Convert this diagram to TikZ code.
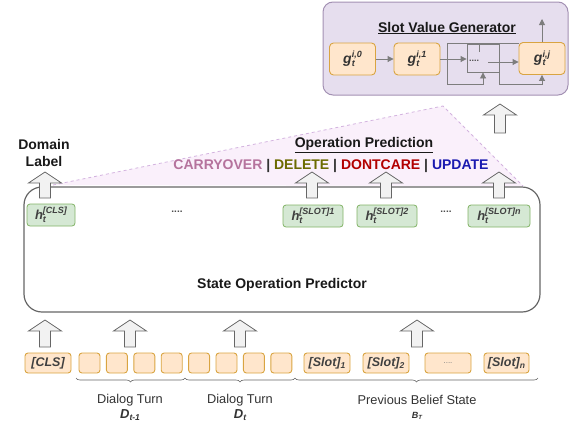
\documentclass[tikz,border=0pt]{standalone}
\usepackage{fontspec}
\setmainfont{Liberation Sans}
\usetikzlibrary{decorations.pathreplacing,arrows.meta}
\definecolor{greenfill}{HTML}{D5E8D4}
\definecolor{greenline}{HTML}{82B366}
\definecolor{orfill}{HTML}{FFE6CC}
\definecolor{orline}{HTML}{D9A441}
\definecolor{purfill}{HTML}{E6DEEE}
\definecolor{purline}{HTML}{A391B3}
\definecolor{pinkfill}{HTML}{FAF0FB}
\definecolor{pinkline}{HTML}{D3B3DF}
\definecolor{arrfill}{HTML}{F2F2F2}
\definecolor{gline}{HTML}{666666}
\definecolor{carry}{HTML}{B5739D}
\definecolor{del}{HTML}{6B6B00}
\definecolor{dont}{HTML}{B20000}
\definecolor{upd}{HTML}{1A1AB0}
\definecolor{barc}{HTML}{333333}
\newcommand\mySS[3]{#1\rlap{\raisebox{-3pt}{\fontsize{9}{9}\selectfont #2}}\raisebox{5.5pt}{\fontsize{9}{9}\selectfont #3}}
\newcommand\mySub[2]{#1\raisebox{-2.5pt}{\fontsize{8.5}{9}\selectfont #2}}
\newcommand\blockup[3]{\draw[blockarr] (#1-5.5,#3) -- (#1-5.5,#2+11) -- (#1-16.5,#2+11) -- (#1,#2) -- (#1+16.5,#2+11) -- (#1+5.5,#2+11) -- (#1+5.5,#3) -- cycle;}
\begin{document}
\begin{tikzpicture}[x=1pt,y=-1pt,
  lbl/.style={font=\bfseries\fontsize{14}{16}\selectfont, text=black!90, inner sep=0pt},
  hbox/.style={draw=greenline, fill=greenfill, rounded corners=3pt, line width=0.8pt, minimum height=22pt, inner sep=0pt, font=\bfseries\itshape\fontsize{13}{13}\selectfont, text=black!75},
  tok/.style={draw=orline, fill=orfill, rounded corners=3pt, line width=0.9pt, minimum height=20pt, inner sep=0pt, font=\bfseries\itshape\fontsize{12.5}{13}\selectfont, text=black!75},
  gbox/.style={draw=orline, fill=orfill, rounded corners=4pt, line width=0.9pt, minimum width=46pt, minimum height=32pt, inner sep=0pt, font=\bfseries\itshape\fontsize{14}{14}\selectfont, text=black!80},
  blockarr/.style={draw=gline, fill=arrfill, line width=0.8pt, line join=miter},
  gconn/.style={draw=gline!85, line width=0.9pt},
  gtip/.style={-{Triangle[length=6pt,width=6pt]}},
  brc/.style={decorate, decoration={brace, mirror, amplitude=4pt}, draw=black!60, line width=0.6pt},
  plaintext/.style={font=\fontsize{12.8}{14}\selectfont, text=black!80, inner sep=0pt},
  dotsty/.style={font=\bfseries\fontsize{10}{10}\selectfont, text=black!70, inner sep=0pt}
]
\useasboundingbox (0,0) rectangle (569,423);

% pink operation area
\coordinate (pa) at (53,185);
\coordinate (pb) at (443,106);
\coordinate (pc) at (523,186);
\fill[pinkfill] (pa) -- (pb) -- (pc) -- cycle;
\draw[pinkline, dashed, line width=0.8pt] (pa) -- (pb) -- (pc);

% slot value generator
\node[draw=purline, fill=purfill, rounded corners=10pt, line width=1pt, minimum width=245pt, minimum height=93pt, inner sep=0pt] (gen) at (445.5,48.5) {};
\node[lbl] (svg) at (447,28) {\underline{Slot Value Generator}};
\node[gbox] (g0) at (352.5,59) {\mySS{g}{t}{i,0}};
\node[gbox] (g1) at (417,59) {\mySS{g}{t}{i,1}};
\node[gbox] (gj) at (542,58.5) {\mySS{g}{t}{i,j}};
\node[draw=gline!85, line width=0.9pt, minimum width=32pt, minimum height=28pt, inner sep=0pt] (gd) at (483,58) {};
\node[dotsty, font=\bfseries\fontsize{9}{9}\selectfont] (gdt) at (474,61) {....};
\draw[gconn,gtip] (g0.east) -- (g1.west);
\draw[gconn,gtip] (g1.east) -- (g1.east -| gd.west);
\coordinate (lp1) at (447,84);
\draw[gconn] (lp1) -- (lp1 |- gd.north) -- (gj.west |- gd.north);
\draw[gconn,gtip] (lp1) -| (gd.south);
\draw[gconn,gtip] (gd.south east) -- ++(0,12) -| (gj.south);
\draw[gconn] ([xshift=-4pt]gd.north) -- ++(0,8);
\coordinate (gdo) at (488,62);
\draw[gconn,gtip] (gdo) -- (gdo -| gj.west);
\coordinate (gout) at (542,19);
\draw[gconn,gtip] (gj.north) -- (gout);

% state operation predictor
\node[draw=gline, line width=1.2pt, rounded corners=18pt, minimum width=516pt, minimum height=125pt, inner sep=0pt] (sop) at (282,249.5) {};
\node[lbl] (sopl) at (282,285) {State Operation Predictor};

\node[hbox, minimum width=48pt] (hcls) at (51,215) {\mySS{h}{t}{[CLS]}};
\node[dotsty] (hd1) at (177,212) {....};
\node[hbox, minimum width=60pt] (hs1) at (313,216) {\mySS{h}{t}{[SLOT]1}};
\node[hbox, minimum width=60pt] (hs2) at (387,216) {\mySS{h}{t}{[SLOT]2}};
\node[dotsty] (hd2) at (446,212) {....};
\node[hbox, minimum width=62pt] (hsn) at (499,216) {\mySS{h}{t}{[SLOT]n}};

% labels
\node[lbl] (dom1) at (44,144) {Domain};
\node[lbl] (dom2) at (44,161) {Label};
\node[lbl] (opp) at (364,145) {\underline{Operation Prediction}};
\node[lbl] (ops) at (331,166) {\textcolor{carry}{CARRYOVER} \textcolor{barc}{|} \textcolor{del}{DELETE} \textcolor{barc}{|} \textcolor{dont}{DONTCARE} \textcolor{barc}{|} \textcolor{upd}{UPDATE}};

% block arrows
\blockup{45}{172}{198}
\blockup{312}{172}{198}
\blockup{386}{172}{198}
\blockup{499}{172}{198}
\blockup{500}{104}{133}
\blockup{45}{320}{347}
\blockup{130}{320}{347}
\blockup{240}{320}{347}
\blockup{417}{320}{347}

% tokens
\node[tok, minimum width=46pt] (tcls) at (48,363) {[CLS]};
\foreach \i/\x in {1/89.5,2/116.9,3/144.3,4/171.7,5/199.1,6/226.5,7/253.9,8/281.3}
  \node[tok, minimum width=21pt] (tk\i) at (\x,363) {};
\node[tok, minimum width=46pt] (ts1) at (327,363) {\mySub{[Slot]}{1}};
\node[tok, minimum width=46pt] (ts2) at (386,363) {\mySub{[Slot]}{2}};
\node[tok, minimum width=46pt, font=\fontsize{8}{8}\selectfont, text=black!50] (tsd) at (448,363) {....};
\node[tok, minimum width=45pt] (tsn) at (506.5,363) {\mySub{[Slot]}{n}};

% braces
\draw[brc] (76,378) -- (185,378);
\draw[brc] (185,378) -- (295,378);
\draw[brc] (295,378) -- (538,378);

\node[plaintext] (dt1) at (130,400) {Dialog Turn};
\node[plaintext, font=\bfseries\itshape\fontsize{13}{13}\selectfont] (dt1s) at (130,415) {\mySub{D}{t-1}};
\node[plaintext] (dt2) at (240,400) {Dialog Turn};
\node[plaintext, font=\bfseries\itshape\fontsize{13}{13}\selectfont] (dt2s) at (240,415) {\mySub{D}{t}};
\node[plaintext] (pbs) at (417,400) {Previous Belief State};
\node[plaintext, font=\bfseries\itshape\fontsize{9}{9}\selectfont] (pbss) at (417,416) {B\raisebox{-1.5pt}{\fontsize{6}{6}\selectfont T}};
\end{tikzpicture}
\end{document}
